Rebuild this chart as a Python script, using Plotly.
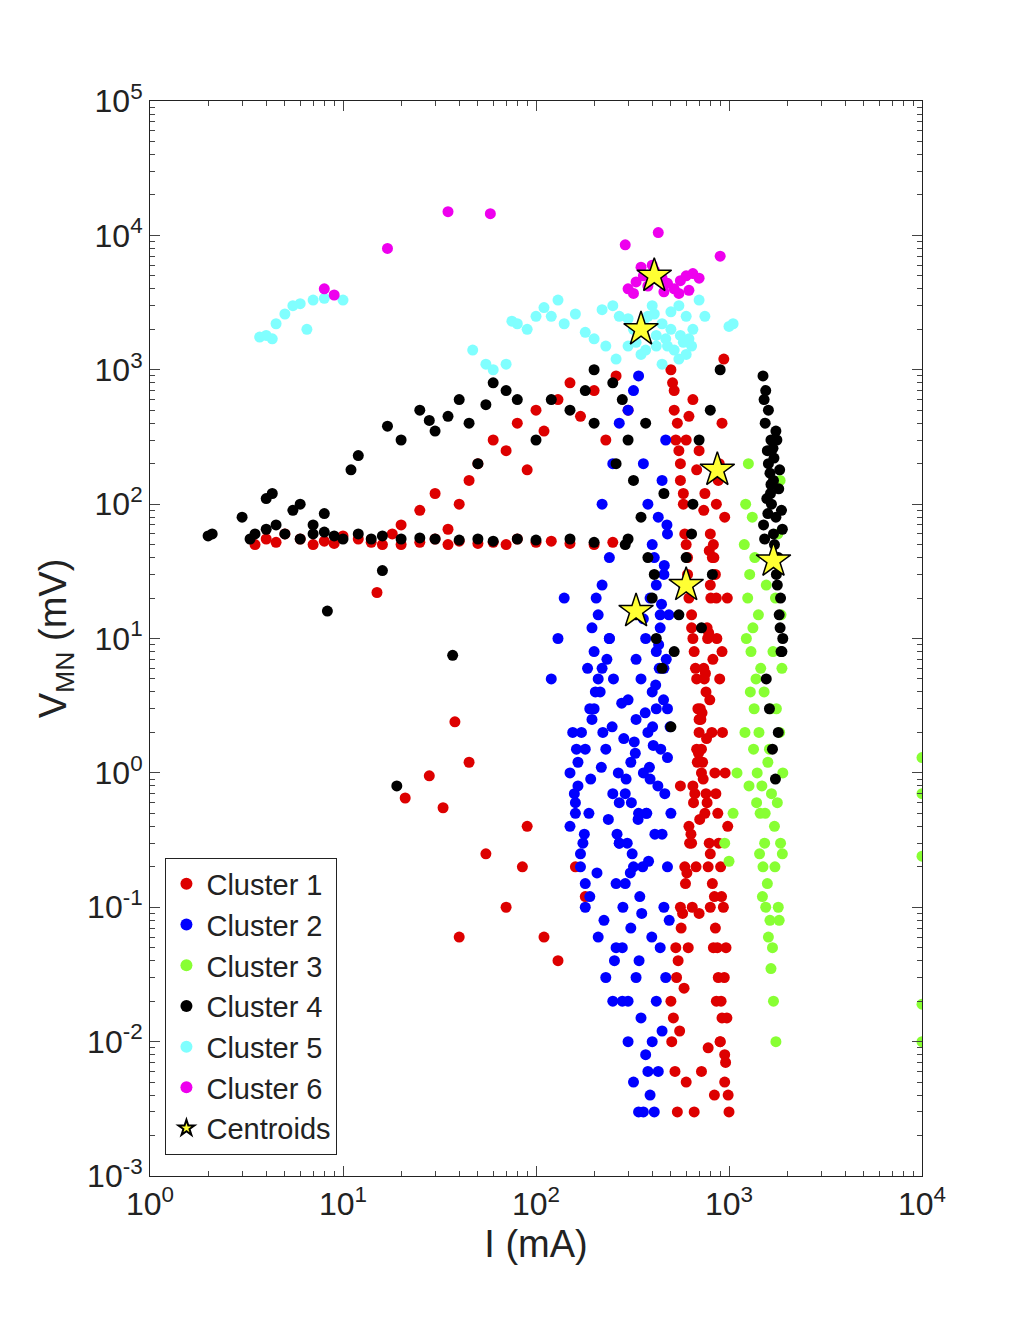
import plotly.graph_objects as go

# Cluster 1 (red)
c1_x = [3.5,4,4.5,5,6,7,8,9,10,12,14,16,18,20,25,30,35,40,50,60,70,80,100,120,150,200,250,
        20,25,30,35,40,45,50,60,70,80,90,100,110,130,150,170,200,230,260,300,
        15,21,28,33,38,40,45,55,70,85,90,110,130,160,180,
        500,520,540,560,580,600,620,650,680,700,720,750,780,800,830,860,900,950,1000,
        510,530,560,590,610,640,660,690,720,760,790,820,850,880,920,960,990,
        520,550,580,610,640,670,700,730,770,800,840,870,910,950,
        540,600,660,720,780,840,900,560,640,700,760,820,880,940,
        500,530,560,590,620,650,680,710,740,770,800,830,860,890,920,950,980,
        505,535,565,595,625,655,685,715,745,775,805,835,865,895,925,955,985,
        515,545,575,605,635,665,695,725,755,785,815,845,875,905,935,965,
        525,555,585,615,645,675,705,735,765,795,825,855,885,915,945,975,
        600,650,700,750,800,850,620,680,740,790,860,920]
c1_y = [50,55,52,60,55,50,53,51,58,55,52,50,60,50,52,55,50,53,51,52,50,55,52,53,51,50,52,
        70,90,120,65,100,150,200,300,250,400,180,500,350,600,800,450,700,300,900,500,
        22,0.65,0.95,0.55,2.4,0.06,1.2,0.25,0.1,0.2,0.4,0.06,0.04,0.2,0.12,
        1000,700,400,200,100,50,20,10,5,2,1,0.5,0.2,0.1,0.05,0.02,0.01,0.005,0.003,
        800,300,150,60,30,15,8,3,1.5,0.7,0.3,0.15,0.07,0.03,0.015,0.007,0.004,
        500,250,120,40,12,6,2.5,1.2,0.6,0.25,0.12,0.05,0.02,0.008,
        0.003,0.005,0.003,0.006,0.009,0.004,0.01,0.8,0.3,0.09,4,40,150,1200,
        0.02,0.05,0.1,0.2,0.4,0.8,1.5,3,6,12,25,50,100,200,400,80,20,
        0.01,0.03,0.07,0.15,0.3,0.6,1.2,2.5,5,10,20,40,10,5,2,1,0.4,
        0.015,0.04,0.09,0.18,0.35,0.7,1.4,2.8,5.5,11,2,1,0.5,0.2,0.1,0.05,
        0.006,0.012,0.025,0.05,0.1,0.2,0.45,0.9,1.8,3.5,7,0.7,0.3,0.12,0.03,0.015,
        300,600,250,120,60,30,450,180,90,45,20,8]

# Cluster 2 (blue)
c2_x = [150,160,170,180,190,200,210,220,240,260,280,300,320,340,360,380,400,420,440,460,480,500,
        155,165,175,185,195,205,215,230,250,270,290,310,330,350,370,390,410,430,450,470,490,
        160,180,200,220,240,260,280,300,320,340,360,380,400,420,440,460,480,
        170,190,210,230,250,270,290,310,330,350,370,390,410,430,450,470,
        300,320,340,360,380,400,420,440,460,480,140,130,120,250,270,220,
        150,165,180,195,210,225,240,255,270,285,300,315,330,345,360,375,390,405,420,435,450,465,480,495,
        158,172,188,203,218,233,248,263,278,293,308,323,338,353,368,383,398,413,428,443,458,473,488,
        162,178,192,207,222,237,252,267,282,297,312,327,342,357,372,387,402,417,432,447,462,477]
c2_y = [1,0.5,0.2,0.1,3,8,15,25,40,0.05,0.02,0.01,0.005,0.003,0.003,0.006,0.01,0.02,0.05,0.1,0.2,0.5,
        2,0.8,0.3,6,12,20,4,1.5,0.7,0.3,0.15,0.07,0.03,0.015,0.008,0.004,0.003,0.006,0.012,0.03,0.08,
        0.6,1.5,3,6,10,0.15,0.05,0.02,0.2,0.5,1,2,4,8,15,30,60,
        0.25,0.12,0.06,0.03,0.02,0.3,0.7,1.2,2.5,5,10,20,40,80,150,300,
        500,700,900,200,100,50,25,12,6,3,20,10,5,200,400,100,
        0.4,1.2,0.15,2.5,5,0.08,10,0.04,0.6,1.8,3.5,0.25,7,0.12,14,0.5,0.9,1.6,3,6,0.35,0.7,1.3,2.2,
        0.7,2,0.5,4,1.1,7,2.2,0.35,3.3,0.9,0.18,1.7,0.45,0.09,2.8,0.22,0.06,0.35,0.8,1.5,3.5,7,15,
        1.5,0.35,0.9,0.18,2,0.45,5,1,0.1,0.3,0.6,1.4,0.04,0.2,0.5,1.1,2.2,4.5,9,18,35,70]

# Cluster 3 (green)
c3_x = [1200,1250,1300,1350,1400,1450,1500,1550,1600,1650,1700,1750,1800,1850,1900,
        1220,1280,1330,1380,1430,1480,1530,1580,1630,1680,1730,1780,1830,1880,
        1260,1320,1420,1520,1620,1720,1820,1100,1050,950,1000,
        1230,1290,1340,1390,1440,1490,1540,1590,1640,1690,1740,1790,1840,1890,
        1210,1270,1360,1460,1560,1660,1760,1860,
        10000,10000,10000,10000,10000]
c3_y = [50,20,8,3,1,0.5,0.2,0.1,0.06,0.035,0.02,0.01,0.1,0.3,1,
        100,30,12,5,2,0.8,0.3,0.15,0.08,0.05,0.2,0.6,2,6,
        200,80,15,4,1.5,0.4,0.08,1,0.5,0.3,0.22,
        10,4,1.5,0.6,0.25,0.12,0.5,1.2,3,8,20,60,150,0.25,
        2,0.8,40,6,25,0.7,3,15,
        1.3,0.7,0.24,0.019,0.01]

# Cluster 4 (black)
c4_x = [2,2.1,3,3.3,3.5,4,4.5,5,6,7,8,9,10,12,14,16,20,25,30,40,50,60,80,100,150,200,300,
        4,4.3,5.5,6,7,8,11,12,17,20,25,28,30,35,40,45,50,55,60,70,80,100,120,150,180,200,
        8.3,16,19,37,200,250,280,300,320,350,380,400,420,450,500,550,600,650,700,800,900,
        1500,1550,1600,1650,1700,1750,1800,1850,1900,1520,1580,1640,1700,1760,1820,1880,
        1540,1600,1660,1720,1780,1840,1560,1620,1680,1740,1800,1860,
        1510,1570,1630,1690,1750,1810,1870,1530,1590,1650,1710,1770,1830,1890,
        260,290,330,370,410,460,520,580,640,720,820]
c4_y = [58,60,80,55,60,65,70,60,55,60,62,58,55,60,55,58,55,56,55,54,55,53,55,54,55,52,55,
        110,120,90,100,70,85,180,230,380,300,500,420,350,450,600,400,200,550,800,700,600,300,600,500,700,400,
        16,32,0.8,7.5,1000,800,600,300,150,80,40,20,10,6,2.2,15,40,100,300,500,1000,
        900,700,500,300,150,80,40,20,10,600,250,120,60,30,15,8,
        400,200,100,50,25,12,5,3,1.5,0.9,2,8,
        70,110,170,260,350,130,90,55,85,140,220,300,180,65,
        200,50,15,400,30,120,8,25,60,12,30]

# Cluster 5 (cyan)
c5_x = [3.7,4,4.3,4.5,5,5.5,6,6.5,7,8,10,47,55,60,70,75,80,90,100,110,120,130,140,160,180,200,
        220,250,270,300,320,350,380,400,420,450,480,500,550,600,650,700,750,1000,1050,260,230,600,550,450,
        330,370,420,470,520,580,640,300,360,410,500,560,620]
c5_y = [1750,1800,1700,2200,2600,3000,3100,2000,3300,3400,3300,1400,1100,1000,1100,2300,2200,2000,2500,2900,2500,3300,2200,2600,1900,1700,
        2800,3000,2500,1500,2000,1300,2500,3000,1800,2200,1500,2700,3000,2500,2000,3300,2500,2100,2200,1200,1500,1300,1200,1100,
        1600,1400,1500,1700,1400,1600,1500,2400,2300,2600,2000,1800,1700]

# Cluster 6 (magenta)
c6_x = [35,58,17,8,9,290,430,900,300,330,360,380,410,450,480,520,560,600,650,700,400,350,460,550,620,320]
c6_y = [15000,14500,8000,4000,3600,8500,10500,7000,4000,4500,5000,4200,5500,4800,4400,4000,4600,5000,5200,4800,6000,5800,3800,3700,3900,3700]

# Centroids
cen_x = [410, 350, 870, 1700, 600, 330]
cen_y = [5000, 2000, 180, 38, 25, 16]

clusters = [("Cluster 1", c1_x, c1_y, "#dd0000"),
            ("Cluster 2", c2_x, c2_y, "#0000ff"),
            ("Cluster 3", c3_x, c3_y, "#88ff33"),
            ("Cluster 4", c4_x, c4_y, "#000000"),
            ("Cluster 5", c5_x, c5_y, "#80ffff"),
            ("Cluster 6", c6_x, c6_y, "#ee00ee")]

fig = go.Figure()
for name, xs, ys, col in clusters:
    fig.add_trace(go.Scatter(x=xs, y=ys, mode="markers", name=name,
                             marker=dict(color=col, size=11, line=dict(width=0))))
fig.add_trace(go.Scatter(x=cen_x, y=cen_y, mode="markers", name="Centroids",
                         marker=dict(symbol="star", color="#ffff33", size=26,
                                     line=dict(color="black", width=1.5))))

font = "Liberation Sans, Arial, sans-serif"
xt = [1, 10, 100, 1000, 10000]
yt = [1e-3, 1e-2, 1e-1, 1, 10, 100, 1000, 1e4, 1e5]
xminor = [m * 10 ** d for d in range(0, 4) for m in range(2, 10)]
yminor = [m * 10.0 ** d for d in range(-3, 5) for m in range(2, 10)]
fig.update_layout(
    width=1020, height=1320, plot_bgcolor="white", paper_bgcolor="white",
    margin=dict(l=142, r=106, t=93, b=152),
    font=dict(family=font, size=32, color="#222"),
    showlegend=True,
    legend=dict(x=0.02, y=0.02, xanchor="left", yanchor="bottom",
                bordercolor="#222", borderwidth=1, bgcolor="white",
                font=dict(size=29), itemsizing="constant"),
    xaxis=dict(type="log", range=[0, 4], title=dict(text="I (mA)", standoff=8),
               tickvals=xt, ticktext=["10<sup>%d</sup>" % i for i in range(5)],
               ticks="inside", ticklen=10, showline=True, linecolor="#222", mirror="ticks",
               showgrid=False, zeroline=False,
               minor=dict(ticks="inside", ticklen=5, showgrid=False, tickmode="array", tickvals=xminor)),
    yaxis=dict(type="log", range=[-3, 5], title=dict(text="V<sub>MN</sub> (mV)", standoff=8),
               tickvals=yt, ticktext=["10<sup>%d</sup>" % i for i in range(-3, 6)],
               ticks="inside", ticklen=10, showline=True, linecolor="#222", mirror="ticks",
               showgrid=False, zeroline=False,
               minor=dict(ticks="inside", ticklen=5, showgrid=False, tickmode="array", tickvals=yminor)),
)
fig.write_html("out.html")
